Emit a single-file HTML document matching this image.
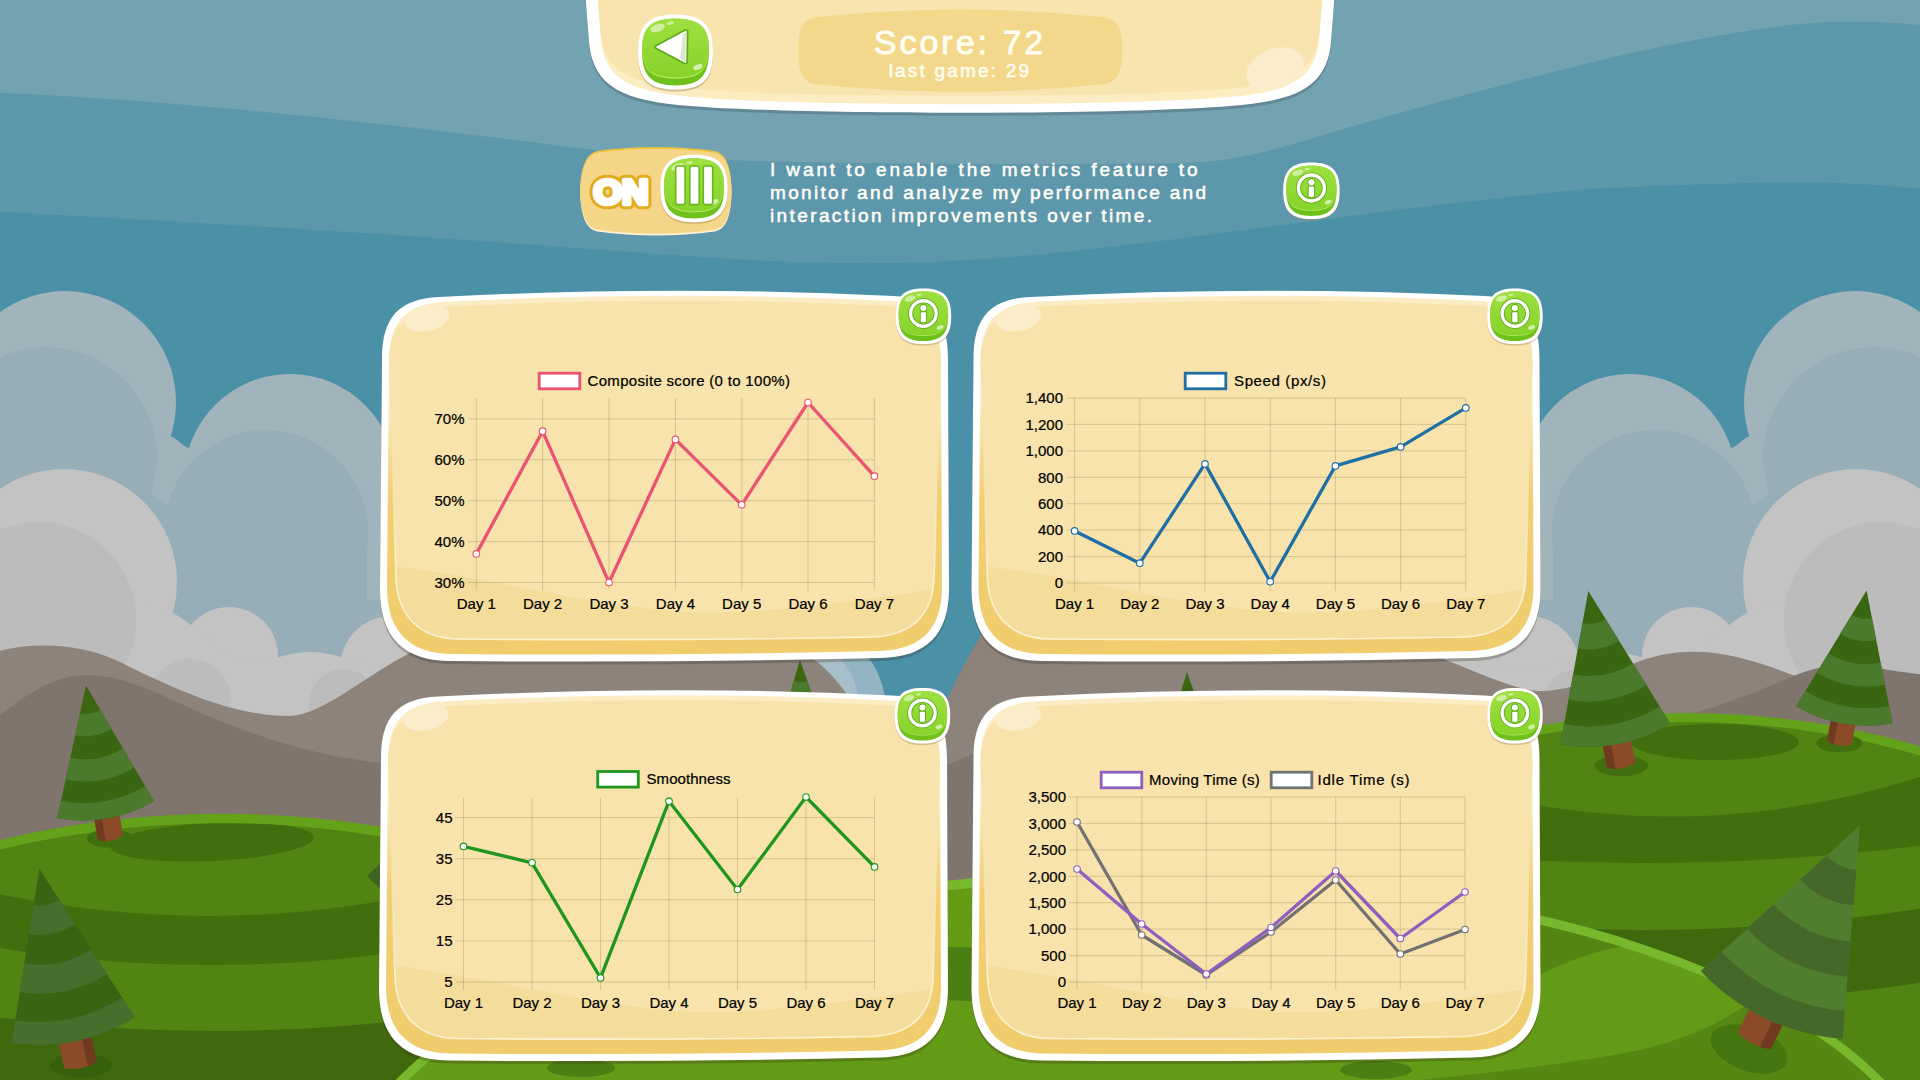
<!DOCTYPE html>
<html><head><meta charset="utf-8"><title>Metrics</title>
<style>
html,body{margin:0;padding:0;width:1920px;height:1080px;overflow:hidden;background:#4a8fa7;font-family:"Liberation Sans",sans-serif}
svg{display:block;position:absolute;left:0;top:0}
</style></head><body>
<svg width="1920" height="1080" viewBox="0 0 1920 1080">
<defs>
<linearGradient id="gface" x1="0" y1="0" x2="0" y2="1"><stop offset="0" stop-color="#9fe040"/><stop offset="1" stop-color="#86d42a"/></linearGradient>
<symbol id="gbtn" viewBox="-2 -2 104 106" overflow="visible">
<path d="M50,0C86,0 100,14 100,50C100,86 86,100 50,100C14,100 0,86 0,50C0,14 14,0 50,0Z" transform="translate(0,2.5)" fill="#a78c5a" opacity=".45"/>
<path d="M50,0C86,0 100,14 100,50C100,86 86,100 50,100C14,100 0,86 0,50C0,14 14,0 50,0Z" fill="#fff"/>
<path d="M50,0C86,0 100,14 100,50C100,86 86,100 50,100C14,100 0,86 0,50C0,14 14,0 50,0Z" transform="translate(5.5,5.5) scale(.89)" fill="#6ec01a"/>
<path d="M50,0C86,0 100,14 100,50C100,86 86,100 50,100C14,100 0,86 0,50C0,14 14,0 50,0Z" transform="translate(5.5,5.5) scale(.89,.80)" fill="#b2e860"/>
<path d="M50,0C86,0 100,14 100,50C100,86 86,100 50,100C14,100 0,86 0,50C0,14 14,0 50,0Z" transform="translate(5.5,5.5) scale(.89,.785)" fill="url(#gface)"/>
<ellipse cx="26" cy="18" rx="10" ry="5" transform="rotate(-18 26 18)" fill="#fff" opacity=".5"/>
<ellipse cx="43" cy="11.5" rx="5" ry="2.2" transform="rotate(-8 43 11.5)" fill="#fff" opacity=".45"/>
<ellipse cx="80" cy="70" rx="6.5" ry="3.5" transform="rotate(-22 80 70)" fill="#fff" opacity=".6"/>
</symbol>
<symbol id="ibtn" viewBox="-2 -2 104 106" overflow="visible">
<use href="#gbtn" x="-2" y="-2" width="104" height="106"/>
<circle cx="50" cy="45" r="23" fill="none" stroke="#5daa18" stroke-width="9"/>
<circle cx="50" cy="45" r="23" fill="none" stroke="#fff" stroke-width="6"/>
<circle cx="50" cy="35" r="7" fill="#5daa18"/><rect x="43.5" y="41" width="13" height="21" rx="2" fill="#5daa18"/>
<circle cx="50" cy="35" r="5.5" fill="#fff"/><rect x="45.2" y="42.5" width="9.6" height="18" rx="1.5" fill="#fff"/>
</symbol>
<linearGradient id="pfill" x1="0" y1="0" x2="0" y2="372" gradientUnits="userSpaceOnUse"><stop offset="0" stop-color="#fbecc4"/><stop offset=".3" stop-color="#fbecc4"/><stop offset=".55" stop-color="#f0cf73"/><stop offset="1" stop-color="#f0cc6c"/></linearGradient>
<linearGradient id="pline" x1="0" y1="0" x2="0" y2="372" gradientUnits="userSpaceOnUse"><stop offset=".45" stop-color="#fcf1d2" stop-opacity="0"/><stop offset=".8" stop-color="#fcf1d2" stop-opacity="1"/></linearGradient>
<clipPath id="povl"><path d="M8,74C8,40 24,21 60,18Q290,6 510,17C545,19 560,40 560,74L553,290C551,326 531,346 492,348Q290,352 78,350C40,350 17,328 15,290Z"/></clipPath>
<g id="panel">
<path d="M1,70C1,28 18,10 58,8Q290,-4 512,7C552,9 567,28 567,70L568,300C568,345 546,368 500,369Q290,374 70,372C24,372 -1,350 -1,300Z" transform="translate(0,3)" fill="#3a3020" opacity=".28"/>
<path d="M1,70C1,28 18,10 58,8Q290,-4 512,7C552,9 567,28 567,70L568,300C568,345 546,368 500,369Q290,374 70,372C24,372 -1,350 -1,300Z" fill="#fff"/>
<path d="M8,72C8,34 24,16 60,13Q290,1 510,12C545,14 560,34 560,72L561,298C561,340 540,361 498,362Q290,367 72,365C30,365 6,344 6,298Z" fill="url(#pfill)"/>
<path d="M8,74C8,40 24,21 60,18Q290,6 510,17C545,19 560,40 560,74L553,290C551,326 531,346 492,348Q290,352 78,350C40,350 17,328 15,290Z" fill="#f7e3ab"/>
<path d="M0,276C120,288 250,330 360,323C440,318 500,308 570,298V380H0Z" fill="#f4dc9b" clip-path="url(#povl)"/>
<path d="M8,74C8,40 24,21 60,18Q290,6 510,17C545,19 560,40 560,74L553,290C551,326 531,346 492,348Q290,352 78,350C40,350 17,328 15,290Z" fill="none" stroke="url(#pline)" stroke-width="1.6"/>
<ellipse cx="46" cy="29" rx="23" ry="13" transform="rotate(-12 46 29)" fill="#fbedca"/>
<use href="#ibtn" x="513.5" y="-1.6" width="57.8" height="58.9"/>
</g>
</defs>
<g id="background">
<rect width="1920" height="1080" fill="#4a90a6"/>
<path d="M0,0H1920V189C1870,184 1830,182 1784,182.4C1720,183 1650,186 1590,189C1500,197 1400,209 1300,222.8C1200,236 1100,250 1000,258C900,266 800,264 700,257C600,250 450,238 314,230C200,223 100,217 0,212Z" fill="#5d97ab"/>
<path d="M0,0H1920V25C1870,20 1820,21 1784,25.8C1720,34 1640,50 1590,63C1500,85 1420,107 1340,130C1280,148 1240,162 1180,163C1050,165 850,164 720,160C660,158 610,152 560,146C350,118 150,99 0,93Z" fill="#73a2b1"/>
<g id="cloudL"><g fill="#a1b4bb"><circle cx="65" cy="402" r="111"/><circle cx="290" cy="480" r="106"/><path d="M-10,402H65L173,437L186,447L290,480H600V760H-10Z"/></g>
<g fill="#97aeb8"><circle cx="46" cy="458" r="111"/><circle cx="266" cy="532" r="102"/><path d="M-10,458H46L154,495L165,505L266,532H367V600H600V760H-10Z"/></g>
<g fill="#c3c3c3"><circle cx="64" cy="582" r="113"/><circle cx="229" cy="656" r="49"/><circle cx="310" cy="752" r="100"/><circle cx="392" cy="668" r="52"/><rect x="392" y="650" width="210" height="140"/><circle cx="470" cy="705" r="50"/><path d="M-10,582H64L172,612L187,622L229,656L275,660H344L388,668L440,672L470,705H600V790H-10Z"/></g>
<g fill="#bcbcbc"><circle cx="38" cy="620" r="98"/><circle cx="190" cy="700" r="41"/><circle cx="343" cy="703" r="34"/></g></g>
<use href="#cloudL" transform="translate(1920,0) scale(-1,1)"/>
<ellipse cx="845" cy="720" rx="42" ry="75" fill="#93b4c3"/><ellipse cx="826" cy="716" rx="34" ry="62" fill="#a6bfca"/>
<path d="M-5,652C30,642 80,642 120,662C190,697 240,716 290,716C326,714 365,674 420,648C520,606 700,625 790,648C818,656 836,678 852,702L852,1000H-5Z" fill="#8d837b"/>
<path d="M946,702C960,672 971,650 991,620C1100,600 1300,610 1420,650C1480,672 1515,692 1545,691C1580,689 1610,672 1640,661C1665,652 1690,650 1715,653C1750,658 1780,670 1800,678L1925,720V1000H940Z" fill="#8d837b"/>
<path d="M-5,720C30,690 60,674 88,675C130,676 170,700 213,718C270,742 330,758 383,763C600,770 800,765 960,768V1000H-5Z" fill="#7f756c"/>
<path d="M940,768C1100,700 1180,690 1260,700C1400,725 1560,740 1660,722C1720,708 1760,690 1796,675C1830,662 1860,662 1884,669C1900,672 1912,673 1925,675V1000H940Z" fill="#7f756c"/>
<path d="M800,660L770,760A105.2,105.2 0 0 0 835,760Z" fill="#3a6611"/><path d="M793.7,681A22.1,22.1 0 0 0 807.4,681L813.1,697.5A39.4,39.4 0 0 1 788.8,697.5Z" fill="#4b7a2d"/><path d="M783.6,714.5A57.3,57.3 0 0 0 819.1,714.5L824.9,731A74.7,74.7 0 0 1 778.7,731Z" fill="#4b7a2d"/><path d="M773.9,747A91.5,91.5 0 0 0 830.5,747L835,760A105.2,105.2 0 0 1 770,760Z" fill="#4b7a2d"/>
<path d="M1187,672L1160,760A92.7,92.7 0 0 0 1218,760Z" fill="#3a6611"/><path d="M1181.3,690.5A19.5,19.5 0 0 0 1193.5,690.5L1198.6,705A34.8,34.8 0 0 1 1176.9,705Z" fill="#4b7a2d"/><path d="M1172.3,720A50.5,50.5 0 0 0 1203.9,720L1209,734.5A65.8,65.8 0 0 1 1167.8,734.5Z" fill="#4b7a2d"/><path d="M1163.5,748.6A80.6,80.6 0 0 0 1214,748.6L1218,760A92.7,92.7 0 0 1 1160,760Z" fill="#4b7a2d"/>
<ellipse cx="222" cy="1237.7" rx="640" ry="424" fill="#64a21a"/>
<clipPath id="hillL"><ellipse cx="222" cy="1237.7" rx="631" ry="414.5"/></clipPath><ellipse cx="222" cy="1237.7" rx="631" ry="414.5" fill="#518413"/><g clip-path="url(#hillL)">
<ellipse cx="212" cy="842" rx="102" ry="19" transform="rotate(-2.7 212 842)" fill="#426f0e"/>
<path d="M-10,892.2Q495,1002.3 1000,602.4V1085H-10Z" fill="#426f0e"/>
<path d="M-10,946.6Q495,1029.9 1000,735.8V1085H-10Z" fill="#518413"/>
<path d="M-10,1016.6Q495,1081.9 1000,851.4V1085H-10Z" fill="#3f690c"/>
</g>
<path d="M367,876L380,864V889Z" fill="#3d6420"/>
<ellipse cx="1686" cy="1133" rx="600" ry="420" fill="#64a21a"/>
<clipPath id="hillR"><ellipse cx="1686" cy="1133" rx="591" ry="411"/></clipPath><ellipse cx="1686" cy="1133" rx="591" ry="411" fill="#518413"/><g clip-path="url(#hillR)">
<ellipse cx="1715" cy="742" rx="84" ry="18" fill="#426f0e"/>
<path d="M1100,611.8Q1515,909.9 1930,773.9V1085H1100Z" fill="#426f0e"/>
<path d="M1100,798.8Q1515,897.5 1930,844.5V1085H1100Z" fill="#518413"/>
<path d="M1100,851.3Q1515,972.3 1930,907.3V1085H1100Z" fill="#3f690c"/>
<path d="M1100,925.3Q1515,1046.3 1930,981.3V1085H1100Z" fill="#518413"/>
</g>
<ellipse cx="110.4" cy="838.4" rx="23.7" ry="9.2" fill="#426f0e"/><g transform="translate(86,685.5) rotate(-9.1)"><path d="M-12.8,126.8V153.8Q0,160.8 12.8,153.8V126.8Z" fill="#8b4a28"/><path d="M-12.8,126.8V153.8Q-9,156.8 -5.4,157.1V126.8Z" fill="#6f3a1f"/></g><path d="M86,685.5L57.3,818A134.8,134.8 0 0 0 154,801Z" fill="#3a6611"/><path d="M80,713.3A28.3,28.3 0 0 0 100.3,709.8L111.5,728.8A50.6,50.6 0 0 1 75.2,735.2Z" fill="#4b7a2d"/><path d="M70.4,757.7A73.5,73.5 0 0 0 123.1,748.4L134.3,767.5A95.7,95.7 0 0 1 65.6,779.6Z" fill="#4b7a2d"/><path d="M61,800.8A117.3,117.3 0 0 0 145.2,786L154,801A134.8,134.8 0 0 1 57.3,818Z" fill="#4b7a2d"/>
<ellipse cx="1621.2" cy="765.8" rx="26.8" ry="10.4" fill="#426f0e"/><g transform="translate(1588.3,591) rotate(-10.7)"><path d="M-14.5,147.9V176.9Q0,183.9 14.5,176.9V147.9Z" fill="#8b4a28"/><path d="M-14.5,147.9V176.9Q-10.1,179.9 -6.1,180.2V147.9Z" fill="#6f3a1f"/></g><path d="M1588.3,591L1560.4,744.2A155.9,155.9 0 0 0 1670.4,723.8Z" fill="#3a6611"/><path d="M1582.4,623.2A32.7,32.7 0 0 0 1605.5,618.9L1619.1,640.8A58.5,58.5 0 0 1 1577.8,648.5Z" fill="#4b7a2d"/><path d="M1573.1,674.5A85,85 0 0 0 1633,663.4L1646.6,685.3A110.7,110.7 0 0 1 1568.5,699.8Z" fill="#4b7a2d"/><path d="M1564,724.3A135.7,135.7 0 0 0 1659.7,706.5L1670.4,723.8A155.9,155.9 0 0 1 1560.4,744.2Z" fill="#4b7a2d"/>
<ellipse cx="1839.4" cy="743.3" rx="23.1" ry="9" fill="#426f0e"/><g transform="translate(1866.6,590.4) rotate(10.1)"><path d="M-12.5,127.3V154.3Q0,161.3 12.5,154.3V127.3Z" fill="#8b4a28"/><path d="M-12.5,127.3V154.3Q-8.8,157.3 -5.2,157.6V127.3Z" fill="#6f3a1f"/></g><path d="M1866.6,590.4L1796.3,706A135.3,135.3 0 0 0 1892.5,723.2Z" fill="#3a6611"/><path d="M1851.8,614.7A28.4,28.4 0 0 0 1872,618.3L1876.3,640.2A50.7,50.7 0 0 1 1840.2,633.8Z" fill="#4b7a2d"/><path d="M1828.3,653.4A73.7,73.7 0 0 0 1880.7,662.8L1885,684.7A96.1,96.1 0 0 1 1816.7,672.5Z" fill="#4b7a2d"/><path d="M1805.4,691A117.7,117.7 0 0 0 1889.1,705.9L1892.5,723.2A135.3,135.3 0 0 1 1796.3,706Z" fill="#4b7a2d"/>
<ellipse cx="1140" cy="1201" rx="800" ry="330" fill="#78b82c"/>
<clipPath id="hillF"><ellipse cx="1140" cy="1201" rx="790" ry="320.5"/></clipPath><ellipse cx="1140" cy="1201" rx="790" ry="320.5" fill="#639b17"/><g clip-path="url(#hillF)">
<path d="M1380,1030C1440,1015 1500,992 1540,974C1570,960 1600,949 1630,946L1660,920L1400,860Z" fill="#548512"/>
<path d="M1300,1090C1420,1082 1560,1066 1640,1050C1690,1038 1720,1022 1745,1006L1790,960L1960,1000V1090Z" fill="#568713"/>
<path d="M930,947C950,946 975,947 1000,950V1003C975,1001 950,1000 930,1000Z" fill="#4b7f14"/>
<ellipse cx="581" cy="1068" rx="34" ry="9" fill="#4b7f14"/><ellipse cx="1376" cy="1070" rx="36" ry="9" fill="#4b7f14"/>
</g>
<ellipse cx="80.5" cy="1065.7" rx="30.9" ry="12" fill="#37600b"/><g transform="translate(39.4,868.7) rotate(-11.8)"><path d="M-16.7,168.3V200.3Q0,207.3 16.7,200.3V168.3Z" fill="#8b4a28"/><path d="M16.7,168.3V200.3Q11.7,203.3 7,203.6V168.3Z" fill="#6f3a1f"/></g><path d="M39.4,868.7L11.7,1042.8A176.3,176.3 0 0 0 134.6,1017Z" fill="#3a6312"/><path d="M33.6,905.3A37,37 0 0 0 59.4,899.8L75.1,924.3A66.1,66.1 0 0 1 29,934Z" fill="#476e2d"/><path d="M24.3,963.6A96.1,96.1 0 0 0 91.3,949.5L107,974A125.1,125.1 0 0 1 19.7,992.3Z" fill="#476e2d"/><path d="M15.3,1020.2A153.3,153.3 0 0 0 122.2,997.7L134.6,1017A176.3,176.3 0 0 1 11.7,1042.8Z" fill="#476e2d"/>
<ellipse cx="1749" cy="1049" rx="40" ry="22" transform="rotate(20 1749 1049)" fill="#46760f"/><g transform="translate(1860,825) rotate(26.1)"><path d="M-18.5,207.2V240.2Q0,247.2 18.5,240.2V207.2Z" fill="#8b4a28"/><path d="M18.5,207.2V240.2Q12.9,243.2 7.8,243.5V207.2Z" fill="#6f3a1f"/></g><path d="M1860,825L1701,971A215.2,215.2 0 0 0 1842.5,1038.8Z" fill="#507d2e"/><path d="M1826.6,855.7A45.2,45.2 0 0 0 1856.3,869.9L1853.4,905.2A80.7,80.7 0 0 1 1800.4,879.8Z" fill="#456729"/><path d="M1773.3,904.6A117.3,117.3 0 0 0 1850.5,941.5L1847.6,976.8A152.8,152.8 0 0 1 1747.1,928.7Z" fill="#456729"/><path d="M1721.7,952A187.2,187.2 0 0 0 1844.8,1011L1842.5,1038.8A215.2,215.2 0 0 1 1701,971Z" fill="#456729"/>
</g>
<g id="toppanel">
<path d="M585,-10L589,42C593,88 625,101 690,106C800,115 1120,115 1230,106C1295,101 1327,88 1331,42L1335,-10Z" transform="translate(0,3)" fill="#2a3a40" opacity=".25"/>
<path d="M585,-10L589,42C593,88 625,101 690,106C800,115 1120,115 1230,106C1295,101 1327,88 1331,42L1335,-10Z" fill="#fff"/>
<path d="M597,-10L601,40C605,80 632,92 692,97C800,106.5 1120,106.5 1228,97C1288,92 1315,80 1319,40L1323,-10Z" fill="#fbecc2"/>
<path d="M597,-10L601,36C605,72 634,84 694,89C800,98 1120,98 1226,89C1286,84 1315,72 1319,36L1323,-10Z" fill="#f7e4ae"/>
<ellipse cx="1275" cy="69" rx="30" ry="20" transform="rotate(-22 1275 69)" fill="#fbedcb"/>
<path d="M814,17.5Q960,1.5 1106,17.5C1118,19.5 1123,32 1122,50C1123,69 1118,82 1106,84Q960,99.5 814,84C802,82 797.5,69 798.5,50C797.5,32 802,19.5 814,17.5Z" fill="#f3d88b"/>
<use href="#gbtn" x="636.5" y="13" width="78" height="79.5"/>
<path d="M657,47L686,31.5L685.5,62Z" fill="#fff" stroke="#5daa18" stroke-width="5" stroke-linejoin="round"/>
<path d="M657,47L686,31.5L685.5,62Z" fill="#fff" stroke="#fff" stroke-width="1.5" stroke-linejoin="round"/>
<path d="M683,34L686,31.5L685.5,62L680,58Z" fill="#dfe6d0"/>
<text x="960" y="53.5" text-anchor="middle" font-family="Liberation Sans, sans-serif" font-size="34" letter-spacing="3" fill="#fffdf2" stroke="#fffdf2" stroke-width=".9">Score: 72</text>
<text x="960" y="77" text-anchor="middle" font-family="Liberation Sans, sans-serif" font-size="19" letter-spacing="2.2" fill="#fffdf2" stroke="#fffdf2" stroke-width=".5">last game: 29</text>
</g>
<g id="toggle">
<path d="M597,152Q656,144 715,152C727,155 731,170 731.5,190C731,212 727,226 715,229Q656,237 597,229C585,226 581,212 580,190C581,170 585,155 597,152Z" transform="translate(0,2.5)" fill="#fdf3d5"/>
<path d="M597,152Q656,144 715,152C727,155 731,170 731.5,190C731,212 727,226 715,229Q656,237 597,229C585,226 581,212 580,190C581,170 585,155 597,152Z" transform="translate(0,-1)" fill="#f0c13c"/>
<path d="M597,152Q656,144 715,152C727,155 731,170 731.5,190C731,212 727,226 715,229Q656,237 597,229C585,226 581,212 580,190C581,170 585,155 597,152Z" transform="translate(0,.8)" fill="#f5d688"/>
<g font-family="Liberation Sans, sans-serif" font-weight="bold" font-size="35.5" text-anchor="middle" stroke-linejoin="round">
<text x="621" y="203.6" textLength="55" lengthAdjust="spacingAndGlyphs" stroke="#e2aa1c" stroke-width="10.4" fill="#e2aa1c">ON</text>
<text x="621" y="203.6" textLength="55" lengthAdjust="spacingAndGlyphs" stroke="#fff" stroke-width="4.6" fill="#fff">ON</text>
</g>
<use href="#gbtn" x="659" y="153.5" width="70" height="71.4"/>
<g fill="#fff" stroke="#66b81a" stroke-width="1.6"><rect x="675.7" y="166" width="9.4" height="38.6" rx="2"/><rect x="689.8" y="166" width="9.4" height="38.6" rx="2"/><rect x="703.3" y="166" width="9.4" height="38.6" rx="2"/></g>
</g>
<g font-family="Liberation Sans, sans-serif" font-size="19" fill="#fffdf5" stroke="#fffdf5" stroke-width=".55">
<text x="770" y="176" textLength="427.5" lengthAdjust="spacing">I want to enable the metrics feature to</text>
<text x="770" y="199" textLength="436" lengthAdjust="spacing">monitor and analyze my performance and</text>
<text x="770" y="222" textLength="382" lengthAdjust="spacing">interaction improvements over time.</text></g>
<use href="#ibtn" x="1282" y="161.4" width="58.8" height="59.9"/>
<use href="#panel" x="381" y="289"/>
<path d="M476.3,398V590.5M542.6,398V590.5M609,398V590.5M675.4,398V590.5M741.7,398V590.5M808,398V590.5M874.4,398V590.5M468.3,582.5H874.4M468.3,541.6H874.4M468.3,500.7H874.4M468.3,459.8H874.4M468.3,418.9H874.4" stroke="#8a7a4a" stroke-opacity=".5" stroke-width=".6" fill="none"/>
<g font-family="Liberation Sans, sans-serif" font-size="15" fill="#000" stroke="#000" stroke-width=".22"><g text-anchor="end"><text x="464.5" y="587.8">30%</text><text x="464.5" y="546.9">40%</text><text x="464.5" y="506">50%</text><text x="464.5" y="465.1">60%</text><text x="464.5" y="424.2">70%</text></g><g text-anchor="middle"><text x="476.3" y="608.5">Day 1</text><text x="542.6" y="608.5">Day 2</text><text x="609" y="608.5">Day 3</text><text x="675.4" y="608.5">Day 4</text><text x="741.7" y="608.5">Day 5</text><text x="808" y="608.5">Day 6</text><text x="874.4" y="608.5">Day 7</text></g><rect x="539.2" y="373.2" width="40.6" height="15.6" fill="#fff" stroke="#ea5371" stroke-width="2.8"/><text x="587.5" y="386" textLength="202.5" lengthAdjust="spacing">Composite score (0 to 100%)</text></g>
<polyline points="476.3,553.9 542.6,431.2 609,582.5 675.4,439.4 741.7,504.8 808,402.5 874.4,476.2" fill="none" stroke="#ea5371" stroke-width="3.3" stroke-linejoin="round" stroke-linecap="round"/>
<g fill="#fff" stroke="#ea5371" stroke-width="1.1"><circle cx="476.3" cy="553.9" r="3.3"/><circle cx="542.6" cy="431.2" r="3.3"/><circle cx="609" cy="582.5" r="3.3"/><circle cx="675.4" cy="439.4" r="3.3"/><circle cx="741.7" cy="504.8" r="3.3"/><circle cx="808" cy="402.5" r="3.3"/><circle cx="874.4" cy="476.2" r="3.3"/></g>
<use href="#panel" x="972.5" y="289"/>
<path d="M1074.6,398V591M1139.8,398V591M1205,398V591M1270.2,398V591M1335.4,398V591M1400.6,398V591M1465.8,398V591M1066.6,583H1465.8M1066.6,556.6H1465.8M1066.6,530.1H1465.8M1066.6,503.7H1465.8M1066.6,477.3H1465.8M1066.6,450.9H1465.8M1066.6,424.4H1465.8M1066.6,398H1465.8" stroke="#8a7a4a" stroke-opacity=".5" stroke-width=".6" fill="none"/>
<g font-family="Liberation Sans, sans-serif" font-size="15" fill="#000" stroke="#000" stroke-width=".22"><g text-anchor="end"><text x="1063" y="588.3">0</text><text x="1063" y="561.9">200</text><text x="1063" y="535.4">400</text><text x="1063" y="509">600</text><text x="1063" y="482.6">800</text><text x="1063" y="456.2">1,000</text><text x="1063" y="429.7">1,200</text><text x="1063" y="403.3">1,400</text></g><g text-anchor="middle"><text x="1074.6" y="609">Day 1</text><text x="1139.8" y="609">Day 2</text><text x="1205" y="609">Day 3</text><text x="1270.2" y="609">Day 4</text><text x="1335.4" y="609">Day 5</text><text x="1400.6" y="609">Day 6</text><text x="1465.8" y="609">Day 7</text></g><rect x="1185.2" y="373.2" width="40.6" height="15.6" fill="#fff" stroke="#1f6ea6" stroke-width="2.8"/><text x="1234" y="386" textLength="92" lengthAdjust="spacing">Speed (px/s)</text></g>
<polyline points="1074.6,530.9 1139.8,563.2 1205,463.9 1270.2,581.7 1335.4,465.9 1400.6,446.9 1465.8,407.9" fill="none" stroke="#1f6ea6" stroke-width="3.3" stroke-linejoin="round" stroke-linecap="round"/>
<g fill="#fff" stroke="#1f6ea6" stroke-width="1.1"><circle cx="1074.6" cy="530.9" r="3.3"/><circle cx="1139.8" cy="563.2" r="3.3"/><circle cx="1205" cy="463.9" r="3.3"/><circle cx="1270.2" cy="581.7" r="3.3"/><circle cx="1335.4" cy="465.9" r="3.3"/><circle cx="1400.6" cy="446.9" r="3.3"/><circle cx="1465.8" cy="407.9" r="3.3"/></g>
<use href="#panel" x="380" y="688.5"/>
<path d="M463.5,797.5V990M532,797.5V990M600.5,797.5V990M669,797.5V990M737.5,797.5V990M806,797.5V990M874.5,797.5V990M455.5,982H874.5M455.5,940.9H874.5M455.5,899.8H874.5M455.5,858.7H874.5M455.5,817.6H874.5" stroke="#8a7a4a" stroke-opacity=".5" stroke-width=".6" fill="none"/>
<g font-family="Liberation Sans, sans-serif" font-size="15" fill="#000" stroke="#000" stroke-width=".22"><g text-anchor="end"><text x="452.5" y="987.3">5</text><text x="452.5" y="946.2">15</text><text x="452.5" y="905.1">25</text><text x="452.5" y="864">35</text><text x="452.5" y="822.9">45</text></g><g text-anchor="middle"><text x="463.5" y="1008">Day 1</text><text x="532" y="1008">Day 2</text><text x="600.5" y="1008">Day 3</text><text x="669" y="1008">Day 4</text><text x="737.5" y="1008">Day 5</text><text x="806" y="1008">Day 6</text><text x="874.5" y="1008">Day 7</text></g><rect x="597.7" y="771.5" width="40.6" height="15.6" fill="#fff" stroke="#1f961f" stroke-width="2.8"/><text x="646.5" y="784.3" textLength="84" lengthAdjust="spacing">Smoothness</text></g>
<polyline points="463.5,846.4 532,862.8 600.5,977.9 669,801.2 737.5,889.5 806,797 874.5,866.9" fill="none" stroke="#1f961f" stroke-width="3.3" stroke-linejoin="round" stroke-linecap="round"/>
<g fill="#fff" stroke="#1f961f" stroke-width="1.1"><circle cx="463.5" cy="846.4" r="3.3"/><circle cx="532" cy="862.8" r="3.3"/><circle cx="600.5" cy="977.9" r="3.3"/><circle cx="669" cy="801.2" r="3.3"/><circle cx="737.5" cy="889.5" r="3.3"/><circle cx="806" cy="797" r="3.3"/><circle cx="874.5" cy="866.9" r="3.3"/></g>
<use href="#panel" x="972.5" y="688.5"/>
<path d="M1077,797V990M1141.7,797V990M1206.3,797V990M1271,797V990M1335.7,797V990M1400.3,797V990M1465,797V990M1069,982H1465M1069,955.6H1465M1069,929.1H1465M1069,902.7H1465M1069,876.3H1465M1069,849.9H1465M1069,823.4H1465M1069,797H1465" stroke="#8a7a4a" stroke-opacity=".5" stroke-width=".6" fill="none"/>
<g font-family="Liberation Sans, sans-serif" font-size="15" fill="#000" stroke="#000" stroke-width=".22"><g text-anchor="end"><text x="1066" y="987.3">0</text><text x="1066" y="960.9">500</text><text x="1066" y="934.4">1,000</text><text x="1066" y="908">1,500</text><text x="1066" y="881.6">2,000</text><text x="1066" y="855.2">2,500</text><text x="1066" y="828.7">3,000</text><text x="1066" y="802.3">3,500</text></g><g text-anchor="middle"><text x="1077" y="1008">Day 1</text><text x="1141.7" y="1008">Day 2</text><text x="1206.3" y="1008">Day 3</text><text x="1271" y="1008">Day 4</text><text x="1335.7" y="1008">Day 5</text><text x="1400.3" y="1008">Day 6</text><text x="1465" y="1008">Day 7</text></g><rect x="1101.2" y="772.2" width="40.6" height="15.6" fill="#fff" stroke="#8e5fc0" stroke-width="2.8"/><text x="1149" y="785" textLength="110.8" lengthAdjust="spacing">Moving Time (s)</text><rect x="1271.2" y="772.2" width="40.6" height="15.6" fill="#fff" stroke="#727272" stroke-width="2.8"/><text x="1317.5" y="785" textLength="92" lengthAdjust="spacing">Idle Time (s)</text></g>
<polyline points="1077,822 1141.7,935 1206.3,975 1271,932 1335.7,880 1400.3,954 1465,929.5" fill="none" stroke="#727272" stroke-width="3.3" stroke-linejoin="round" stroke-linecap="round"/>
<g fill="#fff" stroke="#727272" stroke-width="1.1"><circle cx="1077" cy="822" r="3.3"/><circle cx="1141.7" cy="935" r="3.3"/><circle cx="1206.3" cy="975" r="3.3"/><circle cx="1271" cy="932" r="3.3"/><circle cx="1335.7" cy="880" r="3.3"/><circle cx="1400.3" cy="954" r="3.3"/><circle cx="1465" cy="929.5" r="3.3"/></g>
<polyline points="1077,869 1141.7,924 1206.3,974 1271,927.5 1335.7,871 1400.3,938.5 1465,892" fill="none" stroke="#8e5fc0" stroke-width="3.3" stroke-linejoin="round" stroke-linecap="round"/>
<g fill="#fff" stroke="#8e5fc0" stroke-width="1.1"><circle cx="1077" cy="869" r="3.3"/><circle cx="1141.7" cy="924" r="3.3"/><circle cx="1206.3" cy="974" r="3.3"/><circle cx="1271" cy="927.5" r="3.3"/><circle cx="1335.7" cy="871" r="3.3"/><circle cx="1400.3" cy="938.5" r="3.3"/><circle cx="1465" cy="892" r="3.3"/></g>
</svg>
</body></html>
